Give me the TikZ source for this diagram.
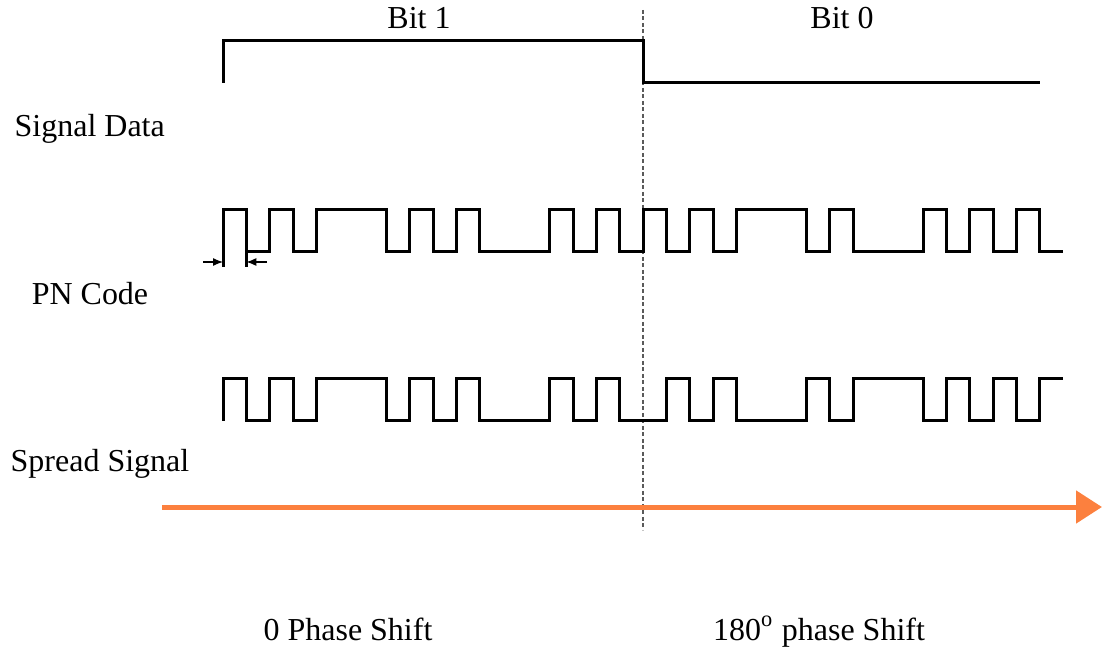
\documentclass[tikz,border=0pt]{standalone}
\usepackage{fontspec}
\setmainfont{Liberation Serif}
\definecolor{axisorange}{RGB}{252,128,62}
\definecolor{dividergray}{RGB}{90,90,90}
\usetikzlibrary{arrows.meta}

\begin{document}
\begin{tikzpicture}[
  wave/.style={line width=0.3mm, black, line join=miter},
  lbl/.style={font=\fontsize{9.1}{11}\selectfont, inner sep=0pt},
  timeaxis/.style={-{Triangle[length=2.6mm, width=3.2mm]}, line width=0.5mm, axisorange},
  chipmark/.style={-{Latex[length=1mm, width=0.8mm]}, line width=0.12mm},
  divider/.style={dash pattern=on 0.4mm off 0.25mm, line width=0.15mm, dividergray}
]
\useasboundingbox (0,0) rectangle (11.02,6.49);
\def\cw{0.23333}

% labels
\node[lbl, anchor=base] (bitone)  at (4.19,6.20) {Bit 1};
\node[lbl, anchor=base] (bitzero) at (8.42,6.20) {Bit 0};
\node[lbl, anchor=base west] (data)   at (0.14,5.12) {Signal Data};
\node[lbl, anchor=base] (pn)          at (0.90,3.44) {PN Code};
\node[lbl, anchor=base west] (spread) at (0.10,1.77) {Spread Signal};
\node[lbl, anchor=base] (zerophase)  at (3.48,0.09) {0 Phase Shift};
\node[lbl, anchor=base] (halfphase)  at (8.19,0.09) {180\textsuperscript{o} phase Shift};

% bit boundary
\coordinate (divtop) at (6.43,6.39);
\coordinate (divbot) at (6.43,1.19);
\draw[divider] (divtop) -- (divbot);

% data signal
\draw[wave] (2.23,5.66) -- (2.23,6.08) -- (6.43,6.08) -- (6.43,5.66) -- (10.40,5.66);

% PN code
\draw[wave] (2.23,3.82) \foreach \b [count=\i from 0] in {1,0,1,0,1,1,1,0,1,0,1,0,0,0,1,0,1,0,1,0,1,0,1,1,1,0,1,0,0,0,1,0,1,0,1,0}
  { -- ({2.23+\i*\cw},{3.97+0.42*\b}) -- ({2.23+(\i+1)*\cw},{3.97+0.42*\b}) };
\draw[wave] (2.23+\cw,3.97) -- (2.23+\cw,3.82);

% chip width
\coordinate (chipa) at (2.23,3.87);
\coordinate (chipb) at (2.23+\cw,3.87);
\coordinate (chipl) at (2.03,3.87);
\coordinate (chipr) at (2.67,3.87);
\draw[chipmark] (chipl) -- (chipa);
\draw[chipmark] (chipr) -- (chipb);

% spread signal
\draw[wave] (2.23,2.28) \foreach \b [count=\i from 0] in {1,0,1,0,1,1,1,0,1,0,1,0,0,0,1,0,1,0,0,1,0,1,0,0,0,1,0,1,1,1,0,1,0,1,0,1}
  { -- ({2.23+\i*\cw},{2.28+0.43*\b}) -- ({2.23+(\i+1)*\cw},{2.28+0.43*\b}) };

% time axis
\coordinate (t0) at (1.62,1.42);
\coordinate (t1) at (11.02,1.42);
\draw[timeaxis] (t0) -- (t1);

\end{tikzpicture}
\end{document}
